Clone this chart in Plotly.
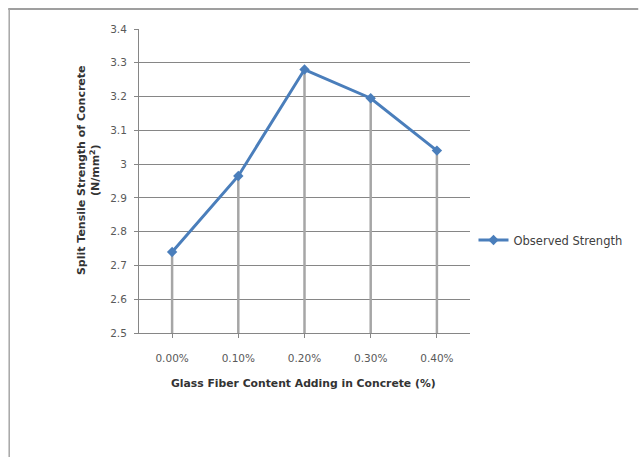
import plotly.graph_objects as go

# Split tensile strength versus glass fibre dosage
fiber_content = ["0.00%", "0.10%", "0.20%", "0.30%", "0.40%"]
observed_strength = [2.74, 2.965, 3.28, 3.195, 3.04]
y_ticks = [2.5, 2.6, 2.7, 2.8, 2.9, 3.0, 3.1, 3.2, 3.3, 3.4]
y_tick_text = ["2.5", "2.6", "2.7", "2.8", "2.9", "3", "3.1", "3.2", "3.3", "3.4"]
y_base = 2.5

W, H = 639, 457
L, R, T, B = 139, 168.5, 29, 124
pw, ph = W - L - R, H - T - B

def px_x(p):
    return (p - L) / pw

def px_y(p):
    return (H - B - p) / ph

font_family = "DejaVu Sans, Verdana, sans-serif"
blue = "#4a7ebb"

# drop lines from each point down to the axis
drop_x, drop_y = [], []
for c, v in zip(fiber_content, observed_strength):
    drop_x += [c, c, None]
    drop_y += [y_base, v, None]

fig = go.Figure()
fig.add_trace(go.Scatter(
    x=drop_x, y=drop_y, mode="lines",
    line=dict(color="#a6a6a6", width=2.5),
    showlegend=False, hoverinfo="skip",
))
fig.add_trace(go.Scatter(
    x=fiber_content, y=observed_strength, mode="lines+markers",
    name="Observed Strength",
    line=dict(color=blue, width=3),
    marker=dict(symbol="diamond", size=8, color=blue),
))

fig.update_layout(
    width=W, height=H,
    margin=dict(l=L, r=R, t=T, b=B),
    paper_bgcolor="white", plot_bgcolor="white",
    font=dict(family=font_family, size=10, color="#404040"),
    xaxis=dict(
        type="category", range=[-0.5, 4.5],
        showgrid=False, showline=True, linecolor="#868686", linewidth=1,
        ticks="outside", ticklen=4, tickcolor="#868686",
        ticklabelstandoff=11,
        tickfont=dict(size=10.5, color="#595959"),
        zeroline=False,
    ),
    yaxis=dict(
        range=[2.5, 3.4], tickvals=y_ticks, ticktext=y_tick_text,
        showgrid=True, gridcolor="#868686", gridwidth=1,
        showline=True, linecolor="#868686", linewidth=1,
        ticks="outside", ticklen=4, tickcolor="#868686",
        ticklabelstandoff=5,
        tickfont=dict(size=10.5, color="#595959"),
        zeroline=False,
    ),
    legend=dict(
        x=px_x(474), y=px_y(240), xanchor="left", yanchor="middle",
        bgcolor="rgba(0,0,0,0)", font=dict(size=11.5, color="#404040"),
    ),
    showlegend=True,
)

fig.add_annotation(
    text="<b>Split Tensile Strength of Concrete<br>(N/mm<sup>2</sup>)</b>",
    xref="paper", yref="paper", x=px_x(88), y=px_y(170),
    xanchor="center", yanchor="middle", textangle=-90, showarrow=False,
    font=dict(size=11, color="#333333"),
)
fig.add_annotation(
    text="<b>Glass Fiber Content Adding in Concrete (%)</b>",
    xref="paper", yref="paper", x=px_x(304), y=px_y(383),
    xanchor="center", yanchor="middle", showarrow=False,
    font=dict(size=10.8, color="#333333"),
)

# outer chart frame (top and left edges)
fig.add_shape(type="line", xref="paper", yref="paper",
              x0=px_x(8), x1=px_x(639), y0=px_y(9), y1=px_y(9),
              line=dict(color="#7f7f7f", width=1.5))
fig.add_shape(type="line", xref="paper", yref="paper",
              x0=px_x(9), x1=px_x(9), y0=px_y(9), y1=px_y(457),
              line=dict(color="#a6a6a6", width=1.5))

fig.write_html("out.html")
